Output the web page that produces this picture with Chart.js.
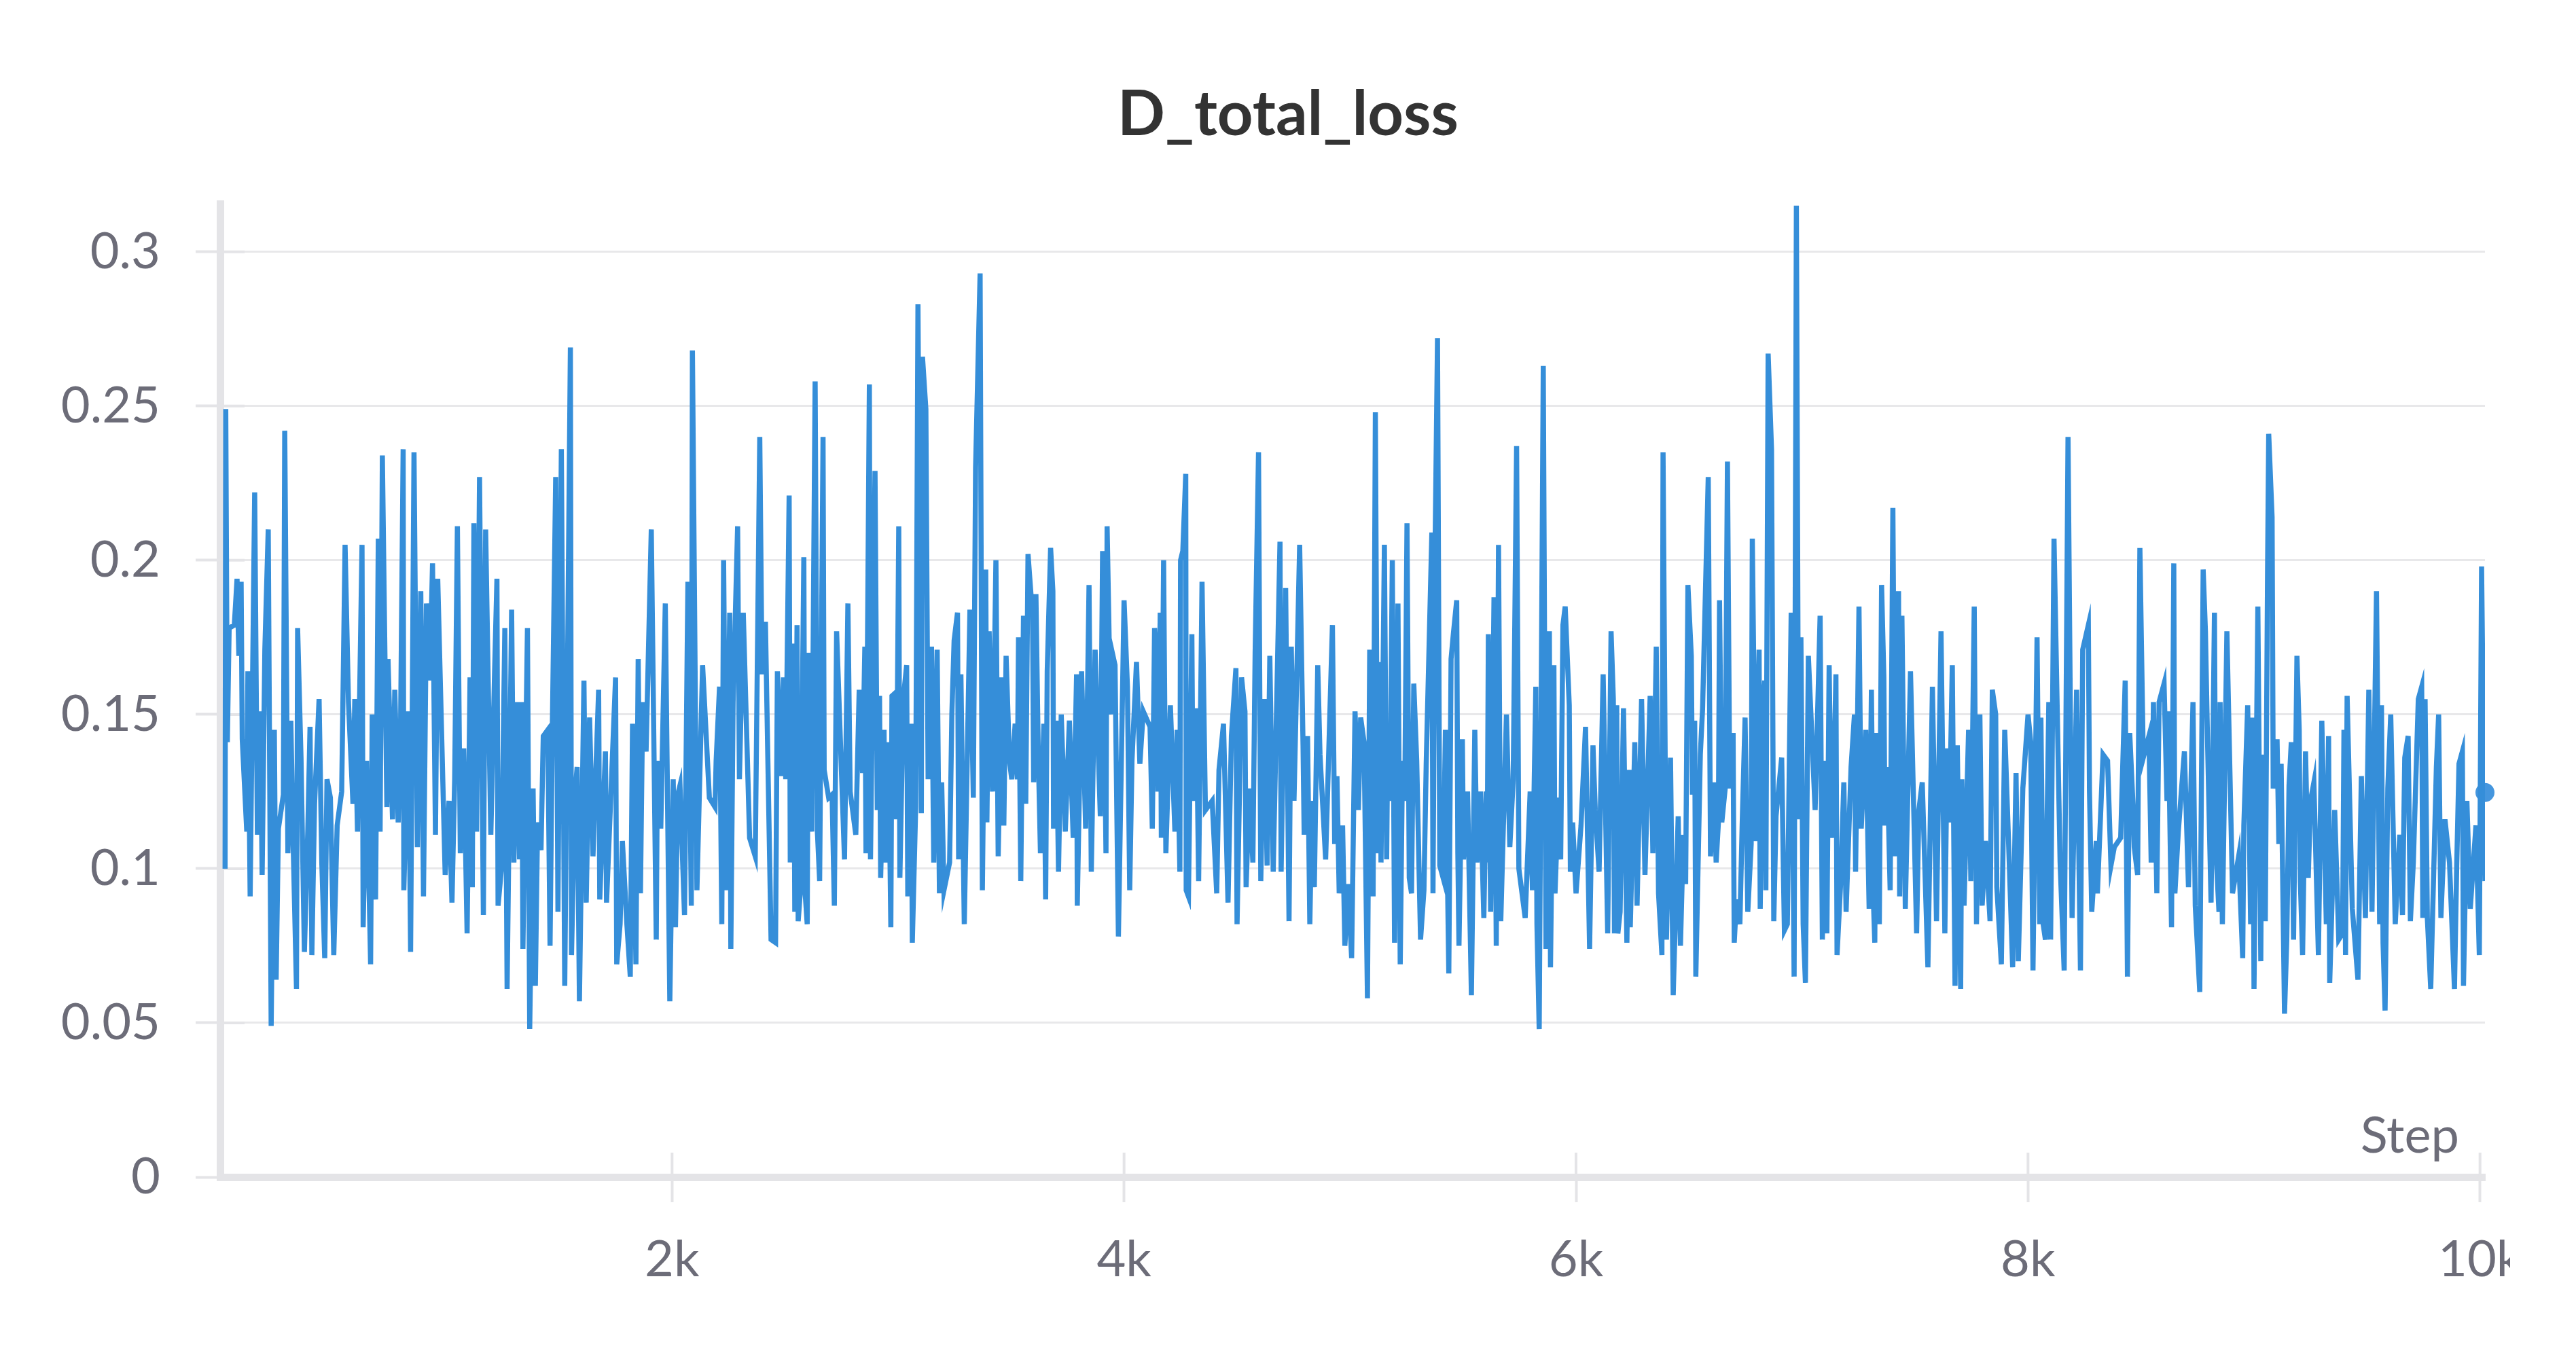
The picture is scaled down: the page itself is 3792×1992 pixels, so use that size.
<!DOCTYPE html>
<html>
<head>
<meta charset="utf-8">
<title>D_total_loss</title>
<script src="https://cdn.jsdelivr.net/npm/chart.js@4.4.1/dist/chart.umd.min.js"></script>
<style>
  html, body { margin: 0; padding: 0; background: #fff; }
  /* canvas is a bit wider than the visible box, so "10k" gets cut like in the original */
  #wrap { width: 3695px; height: 1992px; overflow: hidden; }
  #chart { display: block; width: 3792px; height: 1992px; }
</style>
</head>
<body>
<div id="wrap"><canvas id="chart" width="3792" height="1992"></canvas></div>
<script>
// values (step -> loss)
const steps = [
  22,25,32,40,63,75,83,93,98,118,
  123,133,153,165,178,186,198,213,226,240,
  248,258,280,286,300,313,323,338,343,358,
  373,388,398,406,418,438,450,463,473,488,
  503,518,538,553,568,588,596,608,628,633,
  648,666,673,688,700,708,718,738,743,763,
  773,788,798,810,813,833,843,858,873,888,
  900,913,928,940,953,963,996,1013,1026,1038,
  1050,1063,1078,1093,1106,1116,1123,1135,1148,1165,
  1175,1198,1215,1225,1230,1245,1260,1270,1290,1300,
  1315,1325,1335,1340,1360,1370,1385,1395,1405,1420,
  1430,1450,1460,1470,1485,1495,1510,1525,1550,1555,
  1570,1580,1590,1610,1620,1635,1650,1675,1680,1705,
  1710,1750,1755,1770,1780,1800,1815,1825,1840,1850,
  1860,1870,1885,1908,1930,1935,1950,1970,1990,2005,
  2015,2025,2035,2055,2070,2085,2090,2110,2135,2165,
  2190,2195,2210,2220,2228,2240,2255,2260,2270,2290,
  2298,2315,2343,2368,2388,2398,2413,2438,2458,2466,
  2483,2493,2503,2518,2523,2538,2543,2553,2558,2568,
  2583,2588,2598,2603,2613,2618,2633,2643,2653,2668,
  2673,2693,2708,2718,2728,2763,2778,2788,2813,2828,
  2843,2853,2858,2873,2878,2898,2908,2918,2923,2938,
  2943,2958,2968,2973,2988,2993,3003,3008,3023,3038,
  3043,3058,3063,3078,3088,3103,3108,3123,3133,3148,
  3158,3173,3183,3193,3203,3228,3238,3248,3263,3268,
  3278,3293,3318,3333,3343,3363,3373,3388,3393,3403,
  3418,3433,3443,3458,3468,3478,3493,3503,3518,3528,
  3533,3543,3555,3565,3575,3595,3600,3610,3620,3630,
  3645,3653,3660,3675,3685,3688,3700,3710,3722,3740,
  3758,3775,3790,3793,3812,3830,3845,3855,3872,3895,
  3905,3920,3925,3940,3945,3960,3975,4000,4015,4025,
  4035,4055,4070,4085,4115,4125,4135,4145,4150,4160,
  4165,4175,4185,4205,4225,4235,4247,4250,4260,4273,
  4275,4285,4300,4305,4320,4330,4345,4360,4390,4410,
  4420,4440,4460,4475,4495,4500,4520,4535,4540,4555,
  4570,4580,4595,4605,4620,4633,4645,4660,4690,4695,
  4715,4730,4740,4752,4777,4792,4797,4812,4822,4832,
  4842,4857,4867,4892,4922,4932,4942,4952,4967,4977,
  4992,5007,5022,5037,5047,5062,5077,5087,5102,5112,
  5122,5132,5137,5152,5162,5167,5177,5187,5197,5212,
  5222,5232,5242,5252,5262,5272,5282,5295,5312,5327,
  5337,5362,5367,5377,5387,5397,5412,5422,5437,5447,
  5457,5472,5477,5482,5497,5502,5520,5537,5552,5562,
  5577,5592,5602,5607,5612,5622,5637,5647,5657,5667,
  5692,5707,5722,5737,5747,5775,5797,5807,5822,5827,
  5837,5855,5867,5882,5887,5902,5907,5922,5932,5942,
  5952,5970,5975,5985,6000,6022,6042,6060,6075,6085,
  6102,6120,6140,6155,6165,6170,6180,6185,6195,6210,
  6225,6235,6240,6260,6270,6290,6305,6328,6340,6355,
  6365,6380,6385,6400,6418,6430,6452,6462,6475,6485,
  6495,6510,6515,6525,6530,6550,6560,6585,6595,6610,
  6620,6630,6635,6645,6660,6670,6680,6695,6700,6710,
  6725,6735,6748,6760,6775,6780,6795,6810,6815,6825,
  6835,6840,6850,6865,6875,6885,6910,6918,6922,6935,
  6952,6965,6975,6985,6995,7005,7015,7028,7058,7080,
  7090,7100,7110,7120,7130,7140,7150,7155,7170,7185,
  7195,7217,7232,7237,7252,7262,7282,7297,7307,7317,
  7322,7327,7342,7352,7362,7367,7377,7390,7402,7412,
  7427,7432,7442,7457,7480,7507,7517,7532,7557,7577,
  7595,7615,7632,7642,7652,7665,7677,7687,7702,7707,
  7717,7737,7747,7762,7772,7787,7797,7812,7832,7842,
  7857,7862,7882,7897,7917,7932,7947,7957,7977,8000,
  8012,8022,8040,8052,8057,8067,8077,8092,8100,8115,
  8142,8160,8177,8195,8215,8232,8242,8267,8272,8282,
  8302,8307,8332,8352,8367,8382,8410,8430,8440,8450,
  8465,8470,8485,8495,8510,8535,8545,8555,8570,8580,
  8602,8615,8620,8635,8645,8650,8665,8692,8710,8730,
  8740,8760,8775,8785,8795,8810,8825,8830,8845,8850,
  8860,8880,8905,8932,8950,8955,8972,8985,8995,9000,
  9017,9030,9035,9050,9060,9065,9080,9085,9102,9110,
  9120,9135,9145,9155,9165,9175,9190,9200,9205,9215,
  9228,9240,9250,9265,9285,9300,9320,9330,9335,9357,
  9375,9392,9398,9405,9412,9435,9460,9475,9493,9508,
  9522,9542,9556,9564,9571,9580,9592,9605,9625,9645,
  9657,9667,9682,9692,9705,9727,9742,9747,9757,9767,
  9782,9807,9817,9827,9845,9865,9887,9897,9907,9922,
  9927,9942,9957,9982,9997,10007,10022
]

const loss = [
  0.100,0.249,0.141,0.178,0.179,0.194,0.169,0.193,0.142,0.112,
  0.164,0.091,0.222,0.111,0.151,0.098,0.171,0.210,0.049,0.145,
  0.064,0.113,0.124,0.242,0.105,0.148,0.109,0.061,0.178,0.136,
  0.073,0.112,0.146,0.072,0.121,0.155,0.102,0.071,0.129,0.123,
  0.072,0.114,0.125,0.205,0.154,0.121,0.155,0.112,0.205,0.081,
  0.135,0.069,0.150,0.090,0.207,0.112,0.234,0.120,0.168,0.116,
  0.158,0.115,0.141,0.236,0.093,0.151,0.073,0.235,0.107,0.190,
  0.091,0.186,0.161,0.199,0.111,0.194,0.098,0.122,0.089,0.129,
  0.211,0.105,0.139,0.079,0.162,0.094,0.212,0.112,0.227,0.085,
  0.210,0.111,0.165,0.194,0.088,0.100,0.178,0.061,0.184,0.102,
  0.154,0.103,0.154,0.074,0.178,0.048,0.126,0.062,0.115,0.106,
  0.143,0.145,0.075,0.145,0.227,0.086,0.236,0.062,0.269,0.072,
  0.124,0.133,0.057,0.161,0.089,0.149,0.104,0.158,0.090,0.138,
  0.089,0.162,0.069,0.082,0.109,0.082,0.065,0.147,0.069,0.168,
  0.092,0.154,0.138,0.210,0.077,0.135,0.113,0.186,0.057,0.129,
  0.081,0.124,0.127,0.085,0.193,0.088,0.268,0.093,0.166,0.123,
  0.120,0.135,0.159,0.082,0.200,0.093,0.183,0.074,0.154,0.211,
  0.129,0.183,0.110,0.104,0.240,0.163,0.180,0.077,0.076,0.164,
  0.130,0.162,0.129,0.221,0.102,0.173,0.086,0.179,0.083,0.093,
  0.201,0.093,0.082,0.170,0.133,0.112,0.258,0.112,0.096,0.240,
  0.132,0.123,0.124,0.088,0.177,0.103,0.186,0.125,0.111,0.158,
  0.131,0.172,0.105,0.257,0.103,0.229,0.119,0.156,0.097,0.145,
  0.102,0.141,0.081,0.156,0.157,0.116,0.211,0.097,0.155,0.166,
  0.091,0.147,0.076,0.120,0.283,0.118,0.266,0.249,0.129,0.172,
  0.102,0.171,0.092,0.128,0.093,0.102,0.150,0.174,0.183,0.103,
  0.163,0.082,0.184,0.123,0.230,0.293,0.093,0.197,0.115,0.177,
  0.125,0.200,0.104,0.162,0.114,0.169,0.135,0.129,0.147,0.129,
  0.175,0.096,0.182,0.121,0.202,0.182,0.128,0.189,0.139,0.105,
  0.147,0.090,0.164,0.204,0.190,0.113,0.148,0.099,0.150,0.112,
  0.148,0.110,0.163,0.088,0.164,0.113,0.192,0.099,0.171,0.117,
  0.203,0.105,0.211,0.150,0.171,0.166,0.078,0.187,0.159,0.093,
  0.135,0.167,0.134,0.151,0.146,0.113,0.178,0.166,0.125,0.183,
  0.110,0.200,0.105,0.153,0.112,0.145,0.099,0.200,0.203,0.228,
  0.093,0.091,0.176,0.122,0.152,0.096,0.193,0.119,0.122,0.092,
  0.132,0.147,0.089,0.143,0.165,0.082,0.162,0.151,0.094,0.126,
  0.102,0.170,0.235,0.096,0.155,0.101,0.169,0.099,0.206,0.099,
  0.191,0.083,0.172,0.122,0.205,0.140,0.111,0.143,0.082,0.122,
  0.094,0.166,0.137,0.103,0.179,0.108,0.130,0.092,0.114,0.075,
  0.095,0.071,0.151,0.119,0.149,0.141,0.058,0.171,0.091,0.248,
  0.105,0.167,0.102,0.205,0.103,0.144,0.122,0.200,0.076,0.186,
  0.069,0.135,0.122,0.212,0.097,0.092,0.160,0.135,0.077,0.093,
  0.134,0.209,0.092,0.209,0.272,0.101,0.097,0.145,0.066,0.168,
  0.176,0.187,0.105,0.075,0.142,0.103,0.125,0.059,0.145,0.102,
  0.125,0.084,0.125,0.102,0.176,0.086,0.188,0.075,0.205,0.083,
  0.150,0.107,0.129,0.237,0.100,0.084,0.125,0.093,0.159,0.082,
  0.048,0.263,0.074,0.177,0.068,0.166,0.092,0.123,0.103,0.179,
  0.185,0.153,0.099,0.115,0.092,0.114,0.146,0.074,0.140,0.119,
  0.099,0.163,0.079,0.177,0.155,0.079,0.153,0.079,0.086,0.152,
  0.076,0.132,0.081,0.141,0.088,0.155,0.098,0.156,0.105,0.172,
  0.092,0.072,0.235,0.077,0.136,0.059,0.117,0.075,0.111,0.095,
  0.192,0.169,0.124,0.148,0.065,0.137,0.152,0.227,0.104,0.128,
  0.102,0.115,0.187,0.115,0.126,0.232,0.126,0.144,0.076,0.090,
  0.082,0.114,0.149,0.086,0.108,0.207,0.109,0.171,0.087,0.152,
  0.161,0.093,0.267,0.236,0.083,0.117,0.136,0.097,0.080,0.082,
  0.183,0.065,0.315,0.116,0.175,0.082,0.063,0.169,0.119,0.182,
  0.077,0.135,0.079,0.166,0.110,0.126,0.163,0.072,0.094,0.128,
  0.086,0.133,0.150,0.099,0.185,0.113,0.145,0.087,0.158,0.087,
  0.076,0.144,0.082,0.192,0.162,0.114,0.133,0.093,0.217,0.104,
  0.190,0.091,0.182,0.087,0.164,0.079,0.119,0.128,0.068,0.159,
  0.083,0.177,0.079,0.139,0.115,0.166,0.062,0.140,0.061,0.129,
  0.088,0.145,0.096,0.185,0.082,0.150,0.088,0.109,0.083,0.158,
  0.150,0.094,0.069,0.145,0.102,0.068,0.131,0.070,0.126,0.150,
  0.141,0.067,0.175,0.082,0.149,0.082,0.077,0.154,0.077,0.207,
  0.102,0.067,0.240,0.084,0.158,0.067,0.171,0.179,0.125,0.086,
  0.109,0.092,0.137,0.135,0.101,0.107,0.110,0.161,0.065,0.144,
  0.120,0.107,0.098,0.204,0.136,0.143,0.102,0.154,0.092,0.154,
  0.160,0.122,0.151,0.081,0.199,0.092,0.112,0.138,0.094,0.154,
  0.088,0.060,0.197,0.177,0.139,0.089,0.183,0.108,0.086,0.154,
  0.082,0.177,0.092,0.104,0.071,0.114,0.153,0.082,0.149,0.061,
  0.185,0.070,0.137,0.083,0.197,0.241,0.214,0.126,0.142,0.108,
  0.134,0.053,0.077,0.127,0.141,0.077,0.169,0.145,0.096,0.072,
  0.138,0.097,0.122,0.128,0.072,0.148,0.082,0.143,0.063,0.119,
  0.077,0.079,0.145,0.072,0.156,0.087,0.064,0.130,0.084,0.158,
  0.086,0.190,0.082,0.153,0.076,0.054,0.126,0.150,0.082,0.111,
  0.085,0.136,0.143,0.083,0.102,0.155,0.159,0.084,0.155,0.084,
  0.061,0.133,0.150,0.084,0.116,0.102,0.061,0.101,0.134,0.138,
  0.062,0.122,0.087,0.114,0.072,0.198,0.096
]

// the round marker at the right end
const markerValue = 0.1247

const yTicks = [0, 0.05, 0.1, 0.15, 0.2, 0.25, 0.3]
const xTicks = [2000, 4000, 6000, 8000, 10000]

const ctx = document.getElementById('chart').getContext('2d')

const FONT = 'Lato'
const GRAY = '#6c6c78'
const AXIS = '#e4e4e7'
const BLUE = '#358ed9'

const lastStep = steps[steps.length - 1]

// tick marks also poke into the plot area, and the "Step" name sits inside it
const innerTicks = {
  id: 'innerTicks',
  beforeDatasetsDraw(chart) {
    const { ctx, chartArea, scales } = chart
    ctx.save()
    ctx.strokeStyle = AXIS
    ctx.lineWidth = 4
    ctx.beginPath()
    yTicks.forEach(v => {
      const y = scales.y.getPixelForValue(v)
      ctx.moveTo(chartArea.left, y)
      ctx.lineTo(chartArea.left + 36, y)
    })
    xTicks.forEach(v => {
      const x = scales.x.getPixelForValue(v)
      ctx.moveTo(x, chartArea.bottom)
      ctx.lineTo(x, chartArea.bottom - 36)
    })
    ctx.stroke()
    ctx.restore()
  },
  afterDraw(chart) {
    const { ctx, chartArea } = chart
    ctx.save()
    ctx.fillStyle = GRAY
    ctx.font = '74px ' + FONT
    ctx.textAlign = 'right'
    ctx.textBaseline = 'middle'
    ctx.fillText('Step', chartArea.right - 38, chartArea.bottom - 60)
    ctx.restore()
  }
}

const data = {
  datasets: [{
    label: 'D_total_loss',
    data: steps.map((s, i) => ({ x: s, y: loss[i] })),
    borderColor: BLUE,
    borderWidth: 7.5,
    pointRadius: 0,
    tension: 0,
    fill: false
  }, {
    label: 'last',
    data: [{ x: lastStep, y: markerValue }],
    showLine: false,
    pointRadius: 14,
    pointBackgroundColor: '#4596de',
    pointBorderWidth: 0,
    clip: false
  }]
}

const config = {
  type: 'line',
  data: data,
  options: {
    responsive: false,
    animation: false,
    layout: { padding: 0 },
    plugins: {
      legend: { display: false },
      tooltip: { enabled: false },
      title: {
        display: true,
        text: 'D_total_loss',
        color: '#333333',
        font: { family: FONT, size: 92, weight: 'bold' },
        padding: { top: 114, bottom: 76 }
      }
    },
    scales: {
      x: {
        type: 'linear',
        min: 0,
        max: lastStep,
        afterBuildTicks: s => { s.ticks = xTicks.map(v => ({ value: v })) },
        afterFit: s => { s.height = 259 },
        ticks: {
          color: GRAY,
          font: { family: FONT, size: 74 },
          padding: 41,
          maxRotation: 0,
          autoSkip: false,
          callback: v => (v / 1000) + 'k'
        },
        grid: { drawOnChartArea: false, drawTicks: true, tickLength: 37, tickWidth: 4, tickColor: AXIS },
        border: { display: true, color: AXIS, width: 11 }
      },
      y: {
        min: 0,
        max: 0.3155,
        afterBuildTicks: s => { s.ticks = yTicks.map(v => ({ value: v })) },
        afterFit: s => { s.width = 324 },
        ticks: {
          color: GRAY,
          font: { family: FONT, size: 74 },
          padding: 52,
          callback: v => String(+v.toFixed(2))
        },
        grid: { color: '#e8e8ea', lineWidth: 3, tickLength: 36, tickWidth: 4, tickColor: AXIS },
        border: { display: true, color: AXIS, width: 11 }
      },
      // empty strip on the right so the plot ends where the original does
      // (kept as an axis so the title still centres on the whole canvas)
      gap: {
        type: 'linear',
        position: 'right',
        display: true,
        afterFit: s => { s.width = 134 },
        ticks: { display: false },
        grid: { display: false, drawTicks: false },
        border: { display: false }
      }
    }
  },
  plugins: [innerTicks]
}

const myChart = new Chart(ctx, config)
</script>
</body>
</html>
